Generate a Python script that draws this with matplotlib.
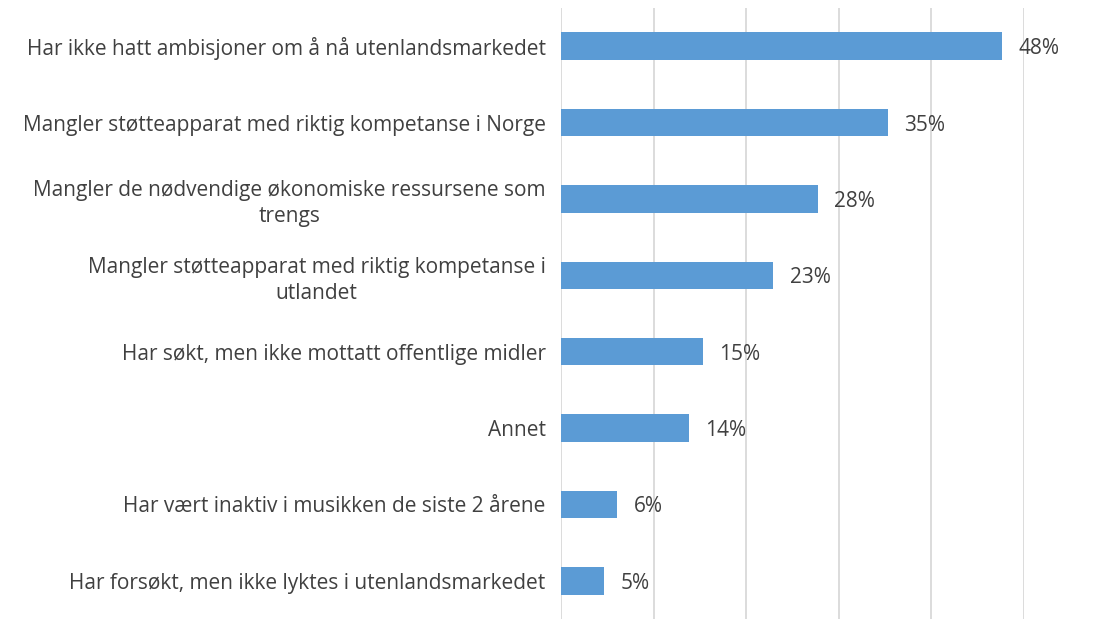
import matplotlib.pyplot as plt
from matplotlib.ticker import MultipleLocator

# survey answers, top to bottom
categories = [
    "Har ikke hatt ambisjoner om å nå utenlandsmarkedet",
    "Mangler støtteapparat med riktig kompetanse i Norge",
    "Mangler de nødvendige økonomiske ressursene som\ntrengs",
    "Mangler støtteapparat med riktig kompetanse i\nutlandet",
    "Har søkt, men ikke mottatt offentlige midler",
    "Annet",
    "Har vært inaktiv i musikken de siste 2 årene",
    "Har forsøkt, men ikke lyktes i utenlandsmarkedet",
]
shares = [0.476, 0.353, 0.277, 0.229, 0.153, 0.138, 0.061, 0.046]
share_labels = ["48%", "35%", "28%", "23%", "15%", "14%", "6%", "5%"]

BAR_COLOR = "#5B9BD5"
TEXT_COLOR = "#404040"
GRID_COLOR = "#D9D9D9"

plt.rcParams["font.family"] = ["Open Sans", "DejaVu Sans"]

fig = plt.figure(figsize=(11.06, 6.19), dpi=100)
ax = fig.add_axes([561 / 1106, 0, (1024 - 561) / 1106, (619 - 8) / 619])

pos = list(range(len(categories)))
bars = ax.barh(pos, shares, height=0.36, color=BAR_COLOR, zorder=3)
texts = ax.bar_label(bars, labels=share_labels, padding=12, color=TEXT_COLOR,
                     fontsize=15, clip_on=False)
for t in texts:
    t.set_va("center_baseline")

ax.set_ylim(len(categories) - 0.5, -0.5)
ax.set_xlim(0, 0.5)
ax.xaxis.set_major_locator(MultipleLocator(0.1))
ax.grid(axis="x", color=GRID_COLOR, linewidth=1.3, zorder=0)
ax.tick_params(axis="x", length=0, labelbottom=False)
ax.tick_params(axis="y", length=0, pad=11, labelsize=15, labelcolor=TEXT_COLOR)
ax.set_yticks(pos)
ax.set_yticklabels(categories)
for lbl in ax.get_yticklabels():
    lbl.set_multialignment("center")
    lbl.set_linespacing(1.3)

for side in ["top", "right", "bottom", "left"]:
    ax.spines[side].set_visible(False)

fig.savefig("out.png", dpi=100)
